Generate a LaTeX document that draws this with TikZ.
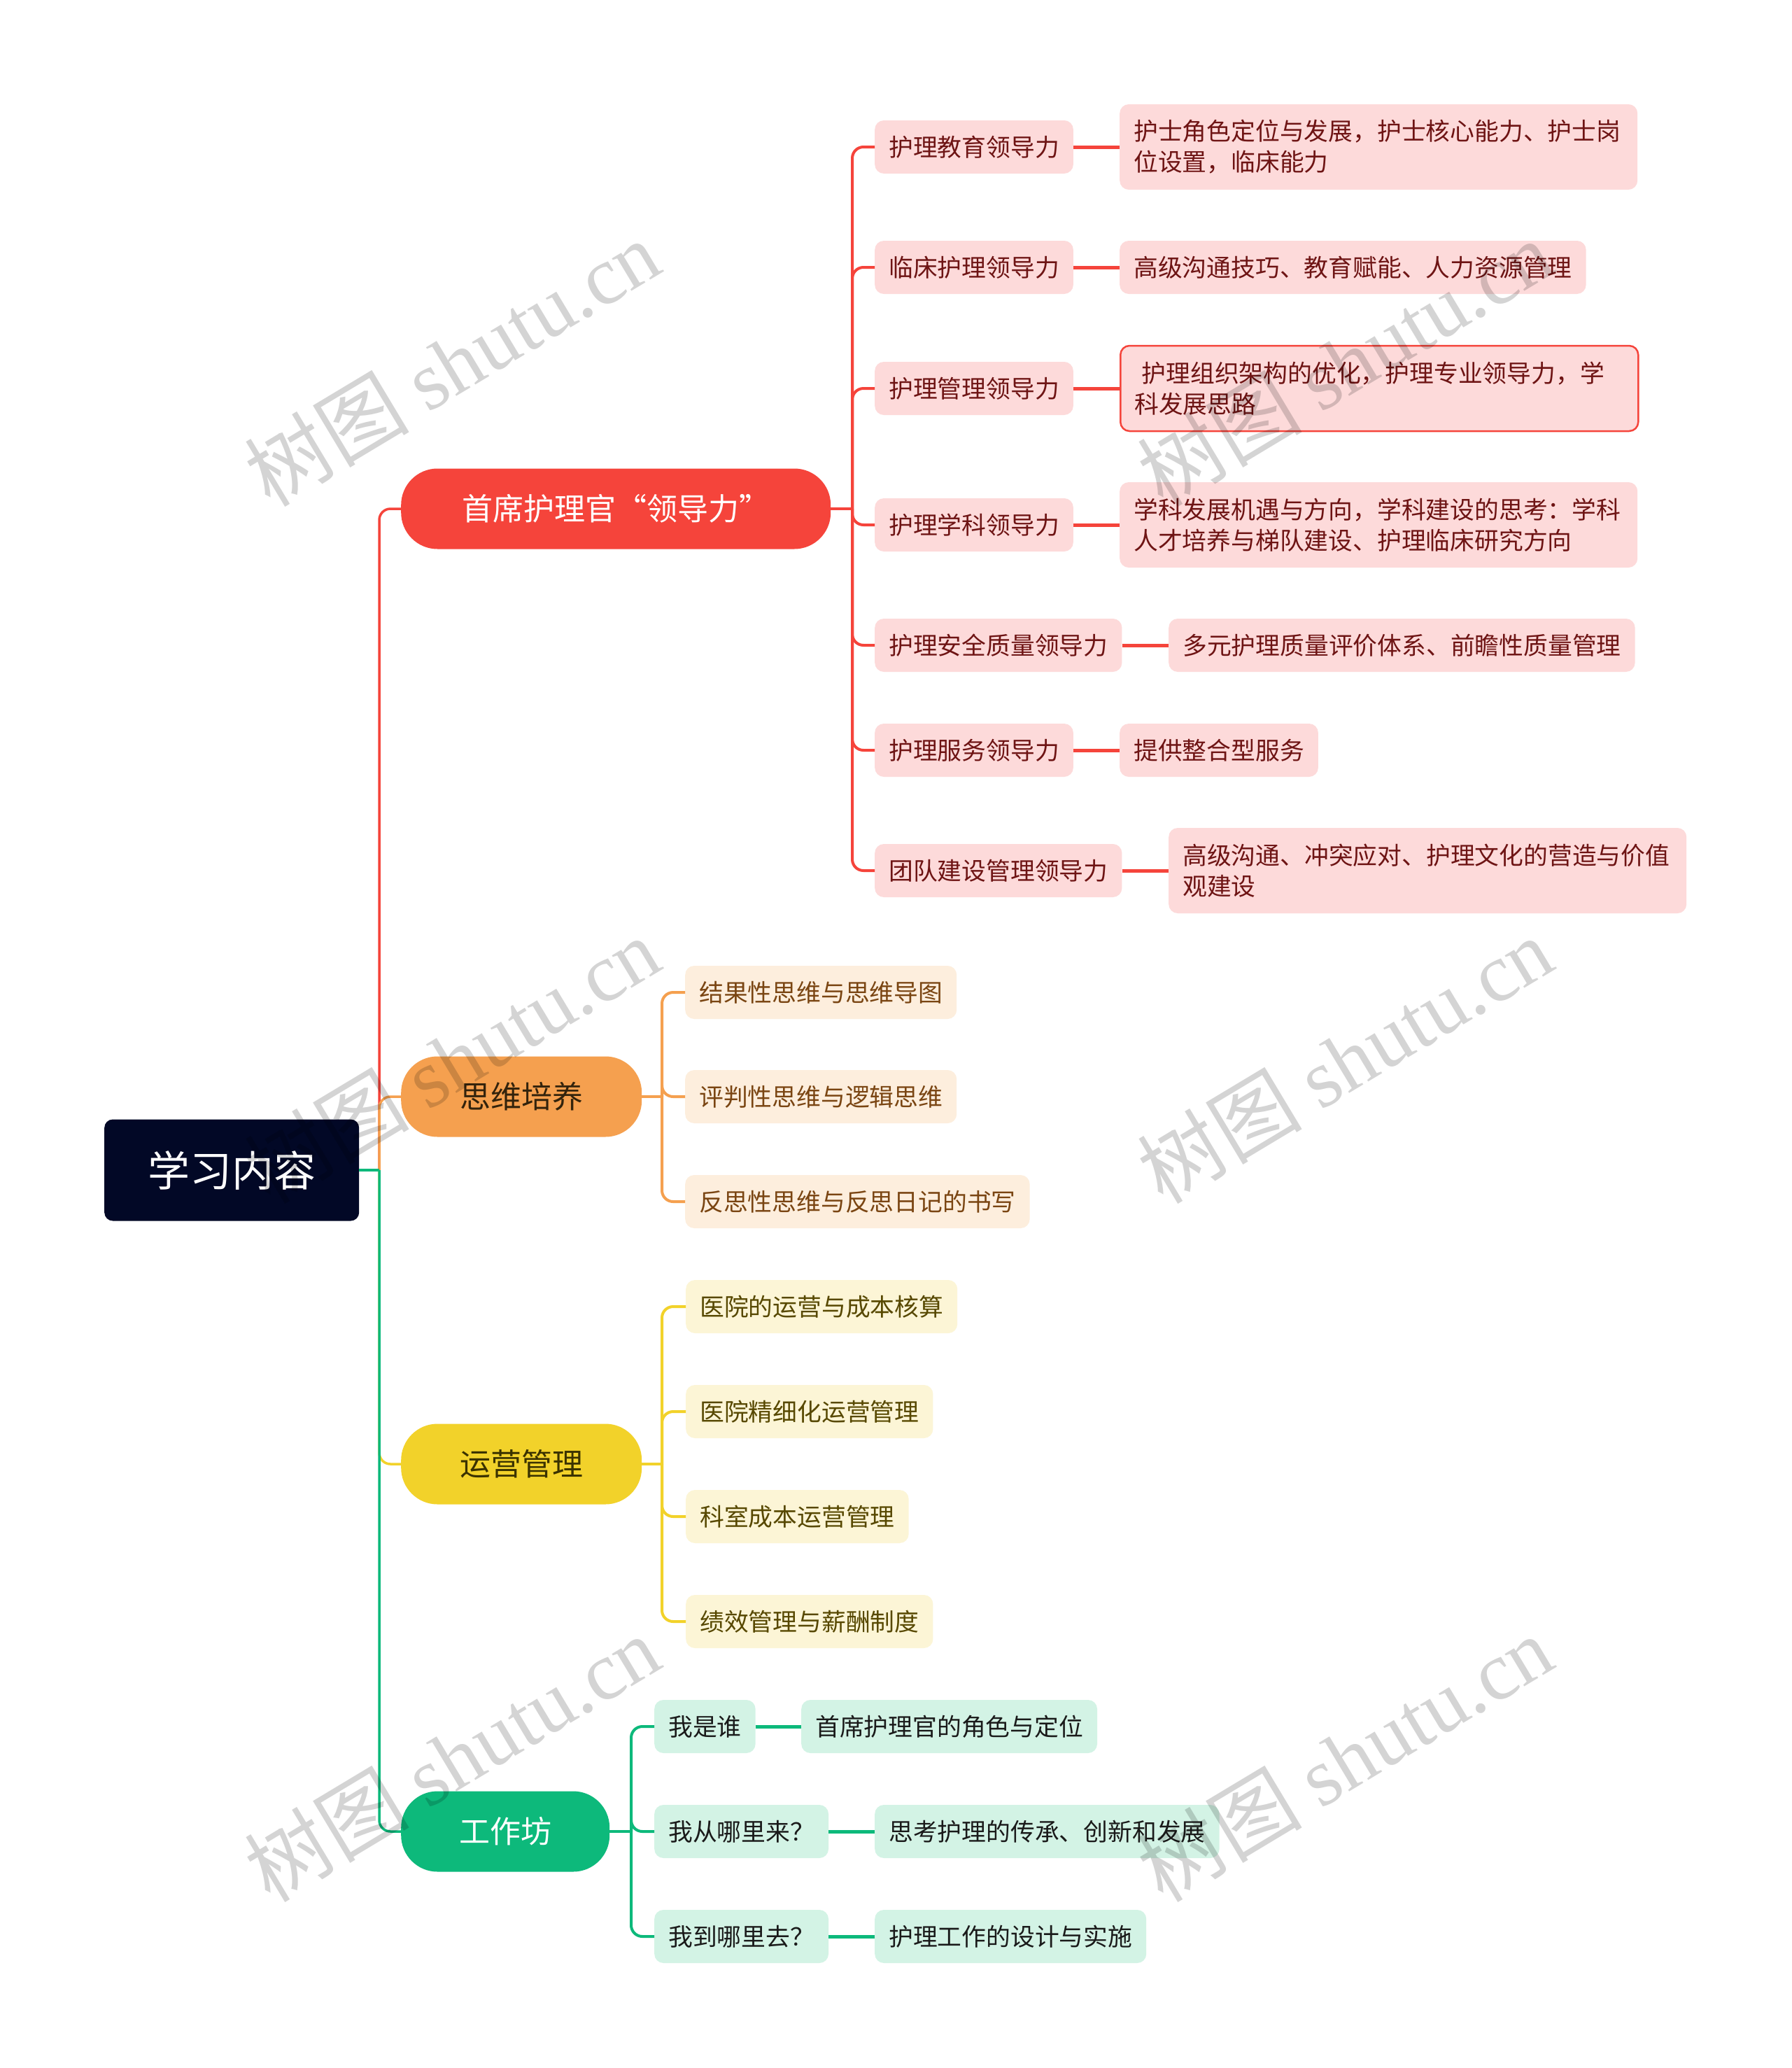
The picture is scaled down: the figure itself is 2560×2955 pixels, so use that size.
\documentclass[tikz,border=0pt]{standalone}
\usepackage{fontspec}
\setmainfont{Noto Sans CJK SC}
\newfontfamily\wmlatin{Liberation Serif}
\definecolor{cRed}{HTML}{F5443B}
\definecolor{cPink}{HTML}{FDDADA}
\definecolor{cRedTxt}{HTML}{6E1414}
\definecolor{cOrg}{HTML}{F5A04F}
\definecolor{cOrgL}{HTML}{FDEEDD}
\definecolor{cOrgTxt}{HTML}{7A4512}
\definecolor{cOrgHead}{HTML}{33230C}
\definecolor{cYel}{HTML}{F2D22A}
\definecolor{cYelL}{HTML}{FCF5D6}
\definecolor{cYelTxt}{HTML}{574800}
\definecolor{cYelHead}{HTML}{3A3200}
\definecolor{cGrn}{HTML}{0DB97B}
\definecolor{cGrnL}{HTML}{D3F3E5}
\definecolor{cGrnTxt}{HTML}{1A1A1A}
\definecolor{cRoot}{HTML}{020826}
\begin{document}
\begin{tikzpicture}[x=1pt,y=-1pt,
  rootbox/.style={fill=cRoot, text=white, rounded corners=12pt, minimum width=364pt, minimum height=145pt, font=\fontsize{60}{70}\selectfont, anchor=west, inner sep=0pt},
  lonebox/.style={rounded corners=52pt, minimum height=115pt, font=\fontsize{44}{52}\selectfont, anchor=west, inner sep=0pt},
  kidbox/.style={rounded corners=13pt, minimum height=76pt, inner xsep=20pt, inner ysep=0pt, font=\fontsize{34.8}{44}\selectfont, anchor=west},
  twoline/.style={kidbox, text width=700pt, align=left, minimum height=122pt},
  redkid/.style={fill=cPink, text=cRedTxt},
  orgkid/.style={fill=cOrgL, text=cOrgTxt},
  yelkid/.style={fill=cYelL, text=cYelTxt},
  grnkid/.style={fill=cGrnL, text=cGrnTxt},
  mainline/.style={line width=3.5pt, rounded corners=16pt},
  subline/.style={line width=4pt, rounded corners=16pt},
  leafline/.style={line width=5pt},
  wmark/.style={rotate=31, text=black, opacity=0.17, inner sep=0pt, font=\fontsize{118}{118}\selectfont}
]
\useasboundingbox[fill=white] (0,0) rectangle (2560,2955);

% root and level 1
\node[rootbox] (root) at (149,1672) {学习内容};
\node[lonebox, fill=cRed, text=white, minimum width=614pt] (a) at (573,727) {首席护理官“领导力”};
\node[lonebox, fill=cOrg, text=cOrgHead, minimum width=344pt] (b) at (573,1567) {思维培养};
\node[lonebox, fill=cYel, text=cYelHead, minimum width=344pt] (c) at (573,2092) {运营管理};
\node[lonebox, fill=cGrn, text=white, minimum width=298pt] (d) at (573,2617) {工作坊};

\coordinate (j0) at (542,1672);
\coordinate (ja) at (1218,727);
\coordinate (jb) at (946,1567);
\coordinate (jc) at (946,2092);
\coordinate (jd) at (902,2617);

% level 2: 首席
\node[kidbox, redkid] (a1) at (1250,210) {护理教育领导力};
\node[kidbox, redkid] (a2) at (1250,382) {临床护理领导力};
\node[kidbox, redkid] (a3) at (1250,555) {护理管理领导力};
\node[kidbox, redkid] (a4) at (1250,750) {护理学科领导力};
\node[kidbox, redkid] (a5) at (1250,922) {护理安全质量领导力};
\node[kidbox, redkid] (a6) at (1250,1072) {护理服务领导力};
\node[kidbox, redkid] (a7) at (1250,1244) {团队建设管理领导力};

\node[twoline, redkid] (a1g) at (1600,210) {护士角色定位与发展，护士核心能力、护士岗\\位设置，临床能力};
\node[kidbox, redkid] (a2g) at (1600,382) {高级沟通技巧、教育赋能、人力资源管理};
\node[twoline, redkid, draw=cRed, line width=2.5pt] (a3g) at (1600,555) {\hspace*{0.3em}护理组织架构的优化，护理专业领导力，学\\科发展思路};
\node[twoline, redkid] (a4g) at (1600,750) {学科发展机遇与方向，学科建设的思考：学科\\人才培养与梯队建设、护理临床研究方向};
\node[kidbox, redkid] (a5g) at (1670,922) {多元护理质量评价体系、前瞻性质量管理};
\node[kidbox, redkid] (a6g) at (1600,1072) {提供整合型服务};
\node[twoline, redkid] (a7g) at (1670,1244) {高级沟通、冲突应对、护理文化的营造与价值\\观建设};

% level 2: 思维培养
\node[kidbox, orgkid] (b1) at (979,1418) {结果性思维与思维导图};
\node[kidbox, orgkid] (b2) at (979,1567) {评判性思维与逻辑思维};
\node[kidbox, orgkid] (b3) at (979,1717) {反思性思维与反思日记的书写};

% level 2: 运营管理
\node[kidbox, yelkid] (c1) at (980,1867) {医院的运营与成本核算};
\node[kidbox, yelkid] (c2) at (980,2017) {医院精细化运营管理};
\node[kidbox, yelkid] (c3) at (980,2167) {科室成本运营管理};
\node[kidbox, yelkid] (c4) at (980,2317) {绩效管理与薪酬制度};

% level 2: 工作坊
\node[kidbox, grnkid] (d1) at (935,2467) {我是谁};
\node[kidbox, grnkid] (d2) at (935,2617) {我从哪里来？};
\node[kidbox, grnkid] (d3) at (935,2767) {我到哪里去？};
\node[kidbox, grnkid] (d1g) at (1145,2467) {首席护理官的角色与定位};
\node[kidbox, grnkid] (d2g) at (1250,2617) {思考护理的传承、创新和发展};
\node[kidbox, grnkid] (d3g) at (1250,2767) {护理工作的设计与实施};

% main connectors
\draw[mainline, cRed] (j0) |- (a.west);
\draw[mainline, cOrg] (j0) |- (b.west);
\draw[mainline, cYel] (j0) |- (c.west);
\draw[mainline, cGrn] (j0) |- (d.west);
\draw[line width=3.5pt, cGrn] (root.east) -- (j0);

% sub connectors
\draw[line width=4pt, cRed] (a.east) -- (ja);
\foreach \k in {a1,a2,a3,a4,a5,a6,a7} \draw[subline, cRed] (ja) |- (\k.west);
\draw[line width=4pt, cOrg] (b.east) -- (jb);
\foreach \k in {b1,b2,b3} \draw[subline, cOrg] (jb) |- (\k.west);
\draw[line width=4pt, cYel] (c.east) -- (jc);
\foreach \k in {c1,c2,c3,c4} \draw[subline, cYel] (jc) |- (\k.west);
\draw[line width=4pt, cGrn] (d.east) -- (jd);
\foreach \k in {d1,d2,d3} \draw[subline, cGrn] (jd) |- (\k.west);

% leaf connectors
\foreach \k in {a1,a2,a3,a4,a5,a6,a7} \draw[leafline, cRed] (\k.east) -- (\k g.west);
\foreach \k in {d1,d2,d3} \draw[leafline, cGrn] (\k.east) -- (\k g.west);

% watermarks
\node[wmark] (wm1) at (646,518) {树图 {\wmlatin shutu.cn}};
\node[wmark] (wm2) at (646,1514) {树图 {\wmlatin shutu.cn}};
\node[wmark] (wm3) at (646,2512) {树图 {\wmlatin shutu.cn}};
\node[wmark] (wm4) at (1922,518) {树图 {\wmlatin shutu.cn}};
\node[wmark] (wm5) at (1922,1514) {树图 {\wmlatin shutu.cn}};
\node[wmark] (wm6) at (1922,2512) {树图 {\wmlatin shutu.cn}};
\end{tikzpicture}
\end{document}
